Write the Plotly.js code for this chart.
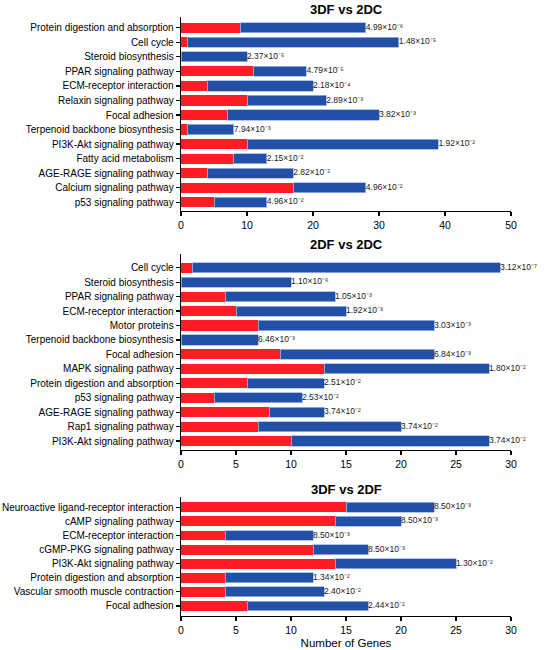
<!DOCTYPE html>
<html>
<head>
<meta charset="utf-8">
<script src="https://cdn.plot.ly/plotly-3.0.1.min.js"></script>
<style>html,body{margin:0;padding:0;background:#fff}</style>
</head>
<body>
<div id="chart" style="width:550px;height:650px"></div>
<script>
// Panel 1: 3DF vs 2DC
const cats1 = ["Protein digestion and absorption","Cell cycle","Steroid biosynthesis","PPAR signaling pathway","ECM-receptor interaction","Relaxin signaling pathway","Focal adhesion","Terpenoid backbone biosynthesis","PI3K-Akt signaling pathway","Fatty acid metabolism","AGE-RAGE signaling pathway","Calcium signaling pathway","p53 signaling pathway"];
const red1 = [9,1,0,11,4,10,7,1,10,8,4,17,5];
const blue1 = [19,32,10,8,16,12,23,7,29,5,13,11,8];
const p1 = ["4.99×10⁻⁶","1.48×10⁻⁵","2.37×10⁻⁵","4.79×10⁻⁵","2.18×10⁻⁴","2.89×10⁻³","3.82×10⁻³","7.94×10⁻³","1.92×10⁻²","2.15×10⁻²","2.82×10⁻²","4.96×10⁻²","4.96×10⁻²"];

// Panel 2: 2DF vs 2DC
const cats2 = ["Cell cycle","Steroid biosynthesis","PPAR signaling pathway","ECM-receptor interaction","Motor proteins","Terpenoid backbone biosynthesis","Focal adhesion","MAPK signaling pathway","Protein digestion and absorption","p53 signaling pathway","AGE-RAGE signaling pathway","Rap1 signaling pathway","PI3K-Akt signaling pathway"];
const red2 = [1,0,4,5,7,0,9,13,6,3,8,7,10];
const blue2 = [28,10,10,10,16,7,14,15,7,8,5,13,18];
const p2 = ["3.12×10⁻⁷","1.10×10⁻⁶","1.05×10⁻³","1.92×10⁻³","3.03×10⁻³","6.46×10⁻³","6.84×10⁻³","1.80×10⁻²","2.51×10⁻²","2.53×10⁻²","3.74×10⁻²","3.74×10⁻²","3.74×10⁻²"];

// Panel 3: 3DF vs 2DF
const cats3 = ["Neuroactive ligand-receptor interaction","cAMP signaling pathway","ECM-receptor interaction","cGMP-PKG signaling pathway","PI3K-Akt signaling pathway","Protein digestion and absorption","Vascular smooth muscle contraction","Focal adhesion"];
const red3 = [15,14,4,12,14,4,4,6];
const blue3 = [8,6,8,5,11,8,9,11];
const p3 = ["8.50×10⁻³","8.50×10⁻³","8.50×10⁻³","8.50×10⁻³","1.30×10⁻²","1.34×10⁻²","2.40×10⁻²","2.44×10⁻²"];

const titles = ["3DF vs 2DC","2DF vs 2DC","3DF vs 2DF"];
const xTicks1 = [0,10,20,30,40,50];
const xTicks23 = [0,5,10,15,20,25,30];

const RED = "#FF1C24", BLUE = "#2150A6";
const W = 550, H = 650;
const panels = [
  {cats:cats1, red:red1, blue:blue1, p:p1, top:16.7, bot:210.7, yr:[12.58,-0.76], xr:[0,50], ticks:xTicks1, ty:10},
  {cats:cats2, red:red2, blue:blue2, p:p2, top:254.3, bot:450, yr:[12.62,-0.93], xr:[0,30], ticks:xTicks23, ty:244},
  {cats:cats3, red:red3, blue:blue3, p:p3, top:496.7, bot:616, yr:[7.71,-0.75], xr:[0,30], ticks:xTicks23, ty:489}
];

const traces = [];
const layout = {
  width: W, height: H,
  margin: {l:181, r:39, t:0, b:0},
  paper_bgcolor: "#fff", plot_bgcolor: "#fff",
  barmode: "stack", bargap: 0.3,
  showlegend: false,
  font: {family: "Liberation Sans, Arial, sans-serif", color: "#000", size: 10},
  annotations: []
};

panels.forEach((pn, i) => {
  const sfx = i === 0 ? "" : String(i + 1);
  const xa = "x" + sfx, ya = "y" + sfx;
  const totals = pn.red.map((r, k) => r + pn.blue[k]);
  traces.push({type:"bar", orientation:"h", y:pn.cats, x:pn.red, xaxis:xa, yaxis:ya,
    textposition:"none", marker:{color:RED, line:{width:0}}, hoverinfo:"x+y"});
  traces.push({type:"bar", orientation:"h", y:pn.cats, x:pn.blue, xaxis:xa, yaxis:ya,
    textposition:"none", marker:{color:BLUE, line:{width:0.8, color:"#9db8e6"}}, hoverinfo:"x+y"});
  traces.push({type:"scatter", mode:"text", y:pn.cats, x:totals, xaxis:xa, yaxis:ya,
    text:pn.p, textposition:"middle right", cliponaxis:false,
    textfont:{size:8.5, color:"#222"}, hoverinfo:"skip"});
  const dom = [1 - pn.bot / H, 1 - pn.top / H];
  layout["xaxis" + sfx] = {
    domain:[0,1], anchor:ya, range:pn.xr, tickmode:"array", tickvals:pn.ticks,
    showline:true, linecolor:"#000", linewidth:1.3, ticks:"outside", ticklen:4,
    tickwidth:1.2, tickcolor:"#000", showgrid:false, zeroline:false,
    tickfont:{size:10.5}, automargin:false,
    title: i === 2 ? {text:"Number of Genes", font:{size:11.5}, standoff:4} : {text:""}
  };
  layout["yaxis" + sfx] = {
    domain:dom, anchor:xa, type:"category", range:pn.yr, autorange:false,
    showline:true, linecolor:"#000", linewidth:1.3, ticks:"outside", ticklen:4,
    tickwidth:1.2, tickcolor:"#000", showgrid:false, zeroline:false,
    tickfont:{size:10}, automargin:false
  };
  layout.annotations.push({
    text:"<b>" + titles[i] + "</b>", xref:"paper", yref:"paper",
    x:0.5, y:1 - pn.ty / H, xanchor:"center", yanchor:"middle",
    showarrow:false, font:{size:13, color:"#000"}
  });
});

Plotly.newPlot("chart", traces, layout, {staticPlot:true, displayModeBar:false});
</script>
</body>
</html>
